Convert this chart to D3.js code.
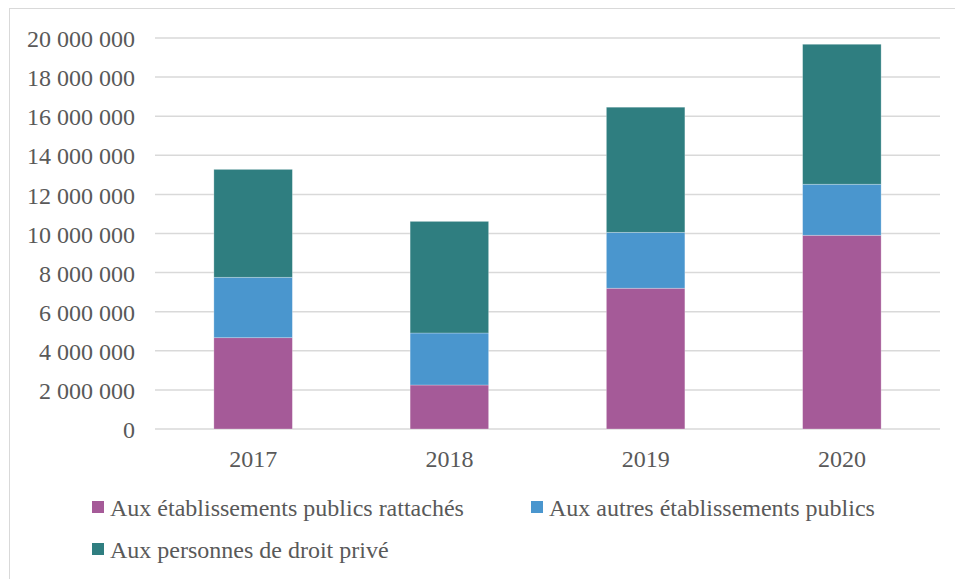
<!DOCTYPE html>
<html>
<head>
<meta charset="utf-8">
<script src="https://cdn.jsdelivr.net/npm/d3@7"></script>
<style>
  html, body { margin: 0; padding: 0; background: #fff; }
  svg { display: block; }
  text { font-family: "Liberation Serif", "Times New Roman", serif; fill: #595959; }
</style>
</head>
<body>
<svg id="chart" width="955" height="579"></svg>
<script>
const categories = ["2017", "2018", "2019", "2020"];
const seriesNames = [
  "Aux établissements publics rattachés",
  "Aux autres établissements publics",
  "Aux personnes de droit privé"
];
const etabRattaches = [4670000, 2250000, 7200000, 9910000];
const autresEtab = [3090000, 2660000, 2860000, 2610000];
const droitPrive = [5520000, 5710000, 6400000, 7160000];
const yTicks = [0, 2000000, 4000000, 6000000, 8000000, 10000000, 12000000, 14000000, 16000000, 18000000, 20000000];
const colors = ["#A55A98", "#4A96CE", "#2F7E80"];

const seriesValues = [etabRattaches, autresEtab, droitPrive];
const rows = categories.map((c, i) => {
  const r = { year: c };
  seriesNames.forEach((s, k) => r[s] = seriesValues[k][i]);
  return r;
});

const svg = d3.select("#chart");
const plotLeft = 155, plotRight = 940, plotTop = 38, plotBottom = 429;

// outer border (chart area frame)
svg.append("rect").attr("x", 9.5).attr("y", 8.5).attr("width", 1000).attr("height", 1000)
  .attr("fill", "none").attr("stroke", "#d9d9d9").attr("stroke-width", 1);

const x = d3.scaleBand().domain(categories).range([plotLeft, plotRight]).padding(0);
const y = d3.scaleLinear().domain([0, 20000000]).range([plotBottom, plotTop]);
const fr = d3.formatLocale({ decimal: ",", thousands: " ", grouping: [3], currency: ["", " €"] });
const fmt = fr.format(",d");

// gridlines
svg.append("g").selectAll("line").data(yTicks).join("line")
  .attr("x1", plotLeft).attr("x2", plotRight)
  .attr("y1", d => y(d)).attr("y2", d => y(d))
  .attr("stroke", "#d9d9d9").attr("stroke-width", 1.5);

// y axis labels
const yAxis = d3.axisLeft(y).tickValues(yTicks).tickFormat(fmt).tickSize(0).tickPadding(0);
const gy = svg.append("g").attr("transform", `translate(135,0)`).call(yAxis);
gy.select(".domain").remove();
gy.selectAll("text").attr("font-size", 24).attr("font-family", "Liberation Serif").attr("fill", "#595959").attr("dy", "0.36em");

// bars
const stack = d3.stack().keys(seriesNames);
const stacked = stack(rows);
const bw = x.bandwidth() * 0.4;
svg.append("g").selectAll("g").data(stacked).join("g")
  .attr("fill", (d, i) => colors[i])
  .selectAll("rect").data(d => d).join("rect")
  .attr("x", d => x(d.data.year) + (x.bandwidth() - bw) / 2)
  .attr("width", bw)
  .attr("y", d => y(d[1]))
  .attr("height", d => y(d[0]) - y(d[1]))
  .attr("stroke", "rgba(255,255,255,0.35)").attr("stroke-width", 0.75);

// x axis labels
const xAxis = d3.axisBottom(x).tickSize(0).tickPadding(0);
const gx = svg.append("g").attr("transform", `translate(0,458)`).call(xAxis);
gx.select(".domain").remove();
gx.selectAll("text").attr("font-size", 24).attr("font-family", "Liberation Serif").attr("fill", "#595959").attr("dy", "0.36em");

// legend
const legendPos = [[92, 507], [531, 507], [92, 549]];
const lg = svg.append("g").selectAll("g").data(seriesNames).join("g")
  .attr("transform", (d, i) => `translate(${legendPos[i][0]},${legendPos[i][1]})`);
lg.append("rect").attr("x", 0).attr("y", -6).attr("width", 12).attr("height", 12).attr("fill", (d, i) => colors[i]);
lg.append("text").attr("x", 18).attr("y", 0).attr("dy", "0.36em").attr("font-size", 24).text(d => d);
</script>
</body>
</html>
